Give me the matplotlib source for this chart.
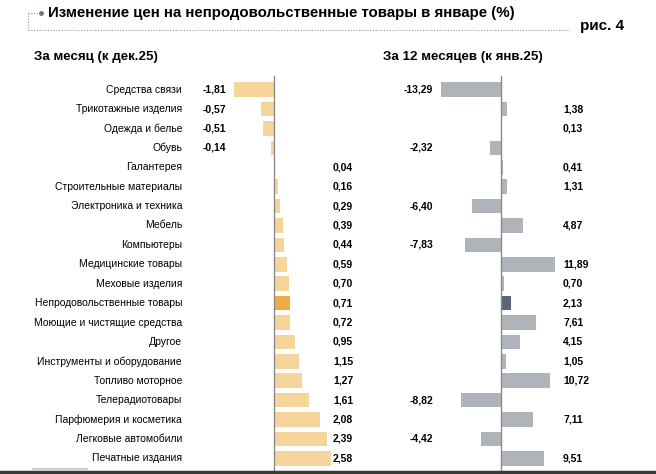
import matplotlib
matplotlib.use("Agg")
from matplotlib import pyplot as plt
from matplotlib import transforms
from matplotlib.lines import Line2D

plt.rcParams['font.family'] = ['Liberation Sans', 'DejaVu Sans']

categories = ["Средства связи", "Трикотажные изделия", "Одежда и белье", "Обувь",
              "Галантерея", "Строительные материалы", "Электроника и техника", "Мебель",
              "Компьютеры", "Медицинские товары", "Меховые изделия",
              "Непродовольственные товары", "Моющие и чистящие средства", "Другое",
              "Инструменты и оборудование", "Топливо моторное", "Телерадиотовары",
              "Парфюмерия и косметика", "Легковые автомобили", "Печатные издания"]
month_vals = [-1.81, -0.57, -0.51, -0.14, 0.04, 0.16, 0.29, 0.39, 0.44, 0.59, 0.70,
              0.71, 0.72, 0.95, 1.15, 1.27, 1.61, 2.08, 2.39, 2.58]
year_vals = [-13.29, 1.38, 0.13, -2.32, 0.41, 1.31, -6.40, 4.87, -7.83, 11.89, 0.70,
             2.13, 7.61, 4.15, 1.05, 10.72, -8.82, 7.11, -4.42, 9.51]
highlight = "Непродовольственные товары"

W, H = 656, 474
fig = plt.figure(figsize=(W / 100, H / 100), dpi=100)


def px(x, y):
    return x / W, 1 - y / H


def fmt(v):
    return f"{v:.2f}".replace(".", ",")


def make_panel(left, right, zero, scale, vals, col, hcol, neg_x, neg_ha, pos_x):
    ax = fig.add_axes([left / W, 6 / H, (right - left) / W, 388 / H])
    ax.set_xlim((left - zero) / scale, (right - zero) / scale)
    ax.set_ylim(len(vals) - 0.5, -0.5)
    ax.axis("off")
    colors = [hcol if c == highlight else col for c in categories]
    ax.barh(range(len(vals)), vals, height=0.76, color=colors)
    ax.axvline(0, ymin=-0.02, ymax=1.01, color="#8a8a8a", lw=1, clip_on=False)
    tr = transforms.blended_transform_factory(fig.transFigure, ax.transData)
    for i, v in enumerate(vals):
        if v < 0:
            ax.text(neg_x / W, i, fmt(v), transform=tr, ha=neg_ha, va="center",
                    fontsize=7.5, fontweight="bold")
        else:
            ax.text(pos_x / W, i, fmt(v), transform=tr, ha="left", va="center",
                    fontsize=7.5, fontweight="bold")
    return ax, tr


ax1, tr1 = make_panel(200, 370, 274, 22.0, month_vals, "#f5d59c", "#f0aa45",
                      203, "left", 333)
ax2, tr2 = make_panel(400, 620, 501, 4.55, year_vals, "#aeb4ba", "#5b6779",
                      433, "right", 563)

for i, c in enumerate(categories):
    ax1.text(182 / W, i, c, transform=tr1, ha="right", va="center", fontsize=7.5)

# header
fig.text(*px(48, 13), "Изменение цен на непродовольственные товары в январе (%)",
         ha="left", va="center", fontsize=10.8, fontweight="bold")
fig.text(*px(624, 26), "рис. 4", ha="right", va="center", fontsize=11, fontweight="bold")
fig.text(*px(34, 57), "За месяц (к дек.25)", ha="left", va="center",
         fontsize=9.6, fontweight="bold")
fig.text(*px(383, 57), "За 12 месяцев (к янв.25)", ha="left", va="center",
         fontsize=9.6, fontweight="bold")

dot = dict(color="#9a9a9a", lw=0.8, linestyle=(0, (1, 1.5)), transform=fig.transFigure)
fig.add_artist(Line2D([28 / W, 38 / W], [1 - 13 / H, 1 - 13 / H], **dot))
fig.add_artist(Line2D([28 / W, 28 / W], [1 - 13 / H, 1 - 30 / H], **dot))
fig.add_artist(Line2D([28 / W, 570 / W], [1 - 30 / H, 1 - 30 / H], **dot))
fig.add_artist(Line2D([41 / W], [1 - 13 / H], marker="o", markersize=2.5,
                      color="#6f7a8a", transform=fig.transFigure))

# bottom rule
fig.add_artist(Line2D([0, 1], [1 - 472 / H, 1 - 472 / H], color="#3a3a3a", lw=2.5,
                      transform=fig.transFigure))
fig.add_artist(Line2D([33 / W, 87 / W], [1 - 469 / H, 1 - 469 / H], color="#d0d0d0",
                      lw=1.5, transform=fig.transFigure))

fig.savefig("out.png", dpi=100)
